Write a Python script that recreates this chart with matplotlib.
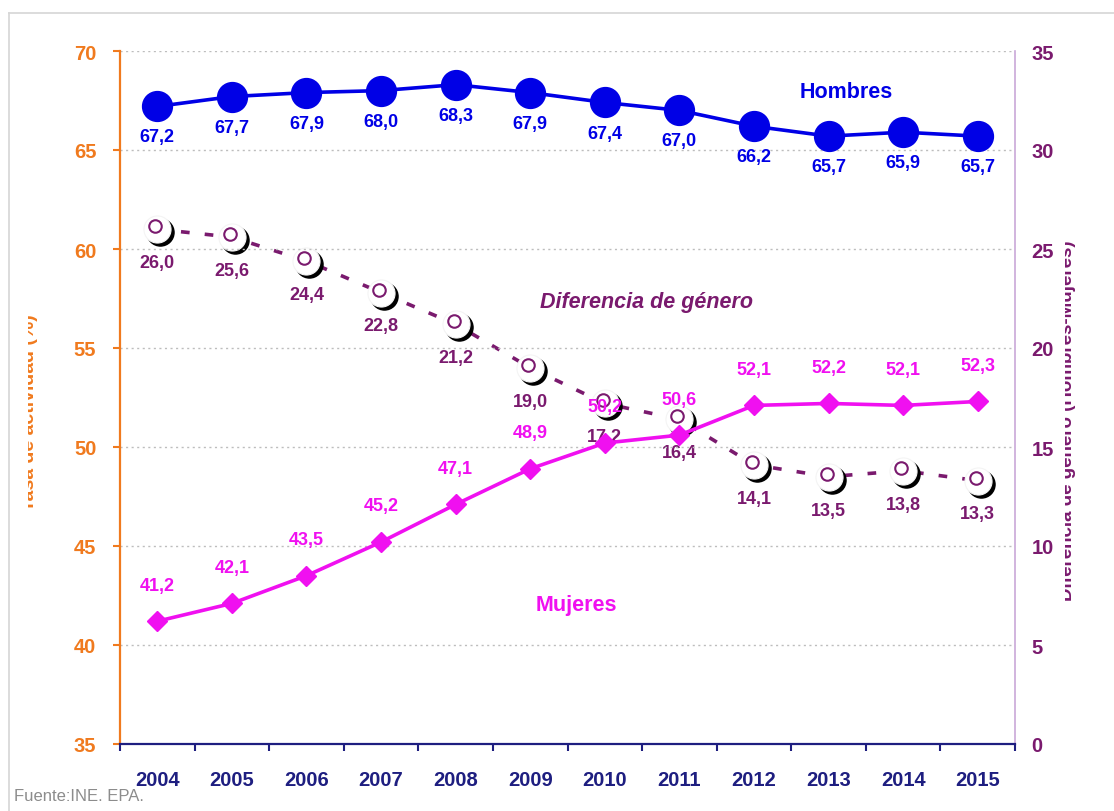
import matplotlib
matplotlib.use("Agg")
import matplotlib.pyplot as plt
import matplotlib.transforms as mtrans
from matplotlib.lines import Line2D
from matplotlib.transforms import Bbox

plt.rcParams['font.family'] = ['Liberation Sans', 'DejaVu Sans']

years = ['2004', '2005', '2006', '2007', '2008', '2009', '2010', '2011', '2012', '2013', '2014', '2015']
hombres = [67.2, 67.7, 67.9, 68.0, 68.3, 67.9, 67.4, 67.0, 66.2, 65.7, 65.9, 65.7]
mujeres = [41.2, 42.1, 43.5, 45.2, 47.1, 48.9, 50.2, 50.6, 52.1, 52.2, 52.1, 52.3]
diferencia = [26.0, 25.6, 24.4, 22.8, 21.2, 19.0, 17.2, 16.4, 14.1, 13.5, 13.8, 13.3]
left_ticks = [35, 40, 45, 50, 55, 60, 65, 70]
right_ticks = [0, 5, 10, 15, 20, 25, 30, 35]

C_H = '#0000E6'
C_M = '#F010F0'
C_D = '#7A1A6E'
C_OR = '#F07A1E'
C_NAVY = '#1E1E80'
C_RAX = '#C9A8D8'

def fmt(v):
    return f"{v:.1f}".replace('.', ',')

W, H = 1114, 812
fig = plt.figure(figsize=(W / 100, H / 100), dpi=100)
ax = fig.add_axes([120 / W, 1 - 745 / H, (1015 - 120) / W, (745 - 52) / H])
ax2 = ax.twinx()

x = list(range(len(years)))

ax.set_xlim(-0.5, len(years) - 0.5)
ax.set_ylim(35, 70)
ax2.set_ylim(0, 35)

# grid
for t in left_ticks[1:]:
    ax.axhline(t, color='#BDBDBD', lw=1, ls=(0, (1.5, 2.5)), zorder=0)

# spines
ax.spines['top'].set_visible(False)
ax2.spines['top'].set_visible(False)
ax.spines['right'].set_visible(False)
ax2.spines['left'].set_visible(False)
ax2.spines['bottom'].set_visible(False)
ax.spines['left'].set_color(C_OR)
ax.spines['left'].set_linewidth(1.6)
ax.spines['bottom'].set_color(C_NAVY)
ax.spines['bottom'].set_linewidth(1.6)
ax2.spines['right'].set_color(C_RAX)
ax2.spines['right'].set_linewidth(1.2)

# ticks
ax.set_yticks(left_ticks)
ax.set_yticklabels([str(t) for t in left_ticks], fontweight='bold', fontsize=14.5, color=C_OR)
ax.tick_params(axis='y', colors=C_OR, length=5, width=1.5, pad=12)
ax2.set_yticks(right_ticks)
ax2.set_yticklabels([str(t) for t in right_ticks], fontweight='bold', fontsize=14.5, color=C_D)
ax2.tick_params(axis='y', colors=C_RAX, labelcolor=C_D, length=0, pad=12)

ax.set_xticks(x)
ax.set_xticklabels(years, fontweight='bold', fontsize=14.5, color=C_NAVY)
ax.tick_params(axis='x', which='major', length=0, pad=19)
ax.set_xticks([i - 0.5 for i in range(len(years) + 1)], minor=True)
ax.tick_params(axis='x', which='minor', length=5, width=1.5, color=C_NAVY)

# layering: primary axes above secondary
ax.set_zorder(ax2.get_zorder() + 1)
ax.patch.set_visible(False)

# Diferencia (secondary axis)
ax2.plot(x, diferencia, color=C_D, lw=2.6, ls=(0, (2.4, 4.2)), zorder=2)
shadow = mtrans.offset_copy(ax2.transData, fig=fig, x=3, y=-3, units='dots')
inner = mtrans.offset_copy(ax2.transData, fig=fig, x=-2, y=3, units='dots')
ax2.plot(x, diferencia, ls='none', marker='o', ms=19.5, mfc='black', mec='black',
         transform=shadow, zorder=3)
ax2.plot(x, diferencia, ls='none', marker='o', ms=19.5, mfc='white', mec='#F4F4F4',
         mew=0.8, zorder=4)
ax2.plot(x, diferencia, ls='none', marker='o', ms=9, mfc='white', mec=C_D,
         mew=1.5, transform=inner, zorder=5)
for xi, v in zip(x, diferencia):
    ax2.annotate(fmt(v), (xi, v), xytext=(0, -24), textcoords='offset points',
                 ha='center', va='center', fontsize=13, fontweight='bold', color=C_D, zorder=6)

# Hombres
ax.plot(x, hombres, color=C_H, lw=2.6, marker='o', ms=21.5, mfc=C_H, mec=C_H, zorder=5)
for xi, v in zip(x, hombres):
    ax.annotate(fmt(v), (xi, v), xytext=(0, -22), textcoords='offset points',
                ha='center', va='center', fontsize=13, fontweight='bold', color=C_H, zorder=6)

# Mujeres
ax.plot(x, mujeres, color=C_M, lw=2.6, marker='D', ms=10.5, mfc=C_M, mec=C_M, zorder=5)
for xi, v in zip(x, mujeres):
    ax.annotate(fmt(v), (xi, v), xytext=(0, 26), textcoords='offset points',
                ha='center', va='center', fontsize=13, fontweight='bold', color=C_M, zorder=6)

# series names
ax.text(9.24, 67.95, 'Hombres', ha='center', va='center', fontsize=15.5,
        fontweight='bold', color=C_H)
ax.text(5.62, 42.05, 'Mujeres', ha='center', va='center', fontsize=15.5,
        fontweight='bold', color=C_M)
ax.text(6.56, 57.37, 'Diferencia de género', ha='center', va='center', fontsize=15.5,
        fontweight='bold', fontstyle='italic', color=C_D)

# clipped axis titles (as in the reference, cut by the frame)
t1 = fig.text(30 / W, 1 - 413 / H, 'Tasa de actividad (%)', rotation=90,
              ha='center', va='center', fontsize=14, fontweight='bold', color=C_OR)
t1.set_clip_box(Bbox.from_extents(28, 0, W, H))
t1.set_clip_on(True)
t2 = fig.text(1067 / W, 1 - 421 / H, 'Diferencia de género (Hombres-Mujeres)', rotation=90,
              ha='center', va='center', fontsize=13.5, fontweight='bold', color=C_D)
t2.set_clip_box(Bbox.from_extents(1065, 0, W, H))
t2.set_clip_on(True)

# frame
fig.add_artist(Line2D([9 / W, 9 / W], [0, 1 - 14 / H], color='#D6D6D6', lw=1.2))
fig.add_artist(Line2D([9 / W, 1], [1 - 14 / H, 1 - 14 / H], color='#D6D6D6', lw=1.2))

# source
fig.text(14 / W, 1 - 797 / H, 'Fuente:INE. EPA.', ha='left', va='center',
         fontsize=12, color='#8C8C8C')

fig.savefig('out.png', dpi=100)
